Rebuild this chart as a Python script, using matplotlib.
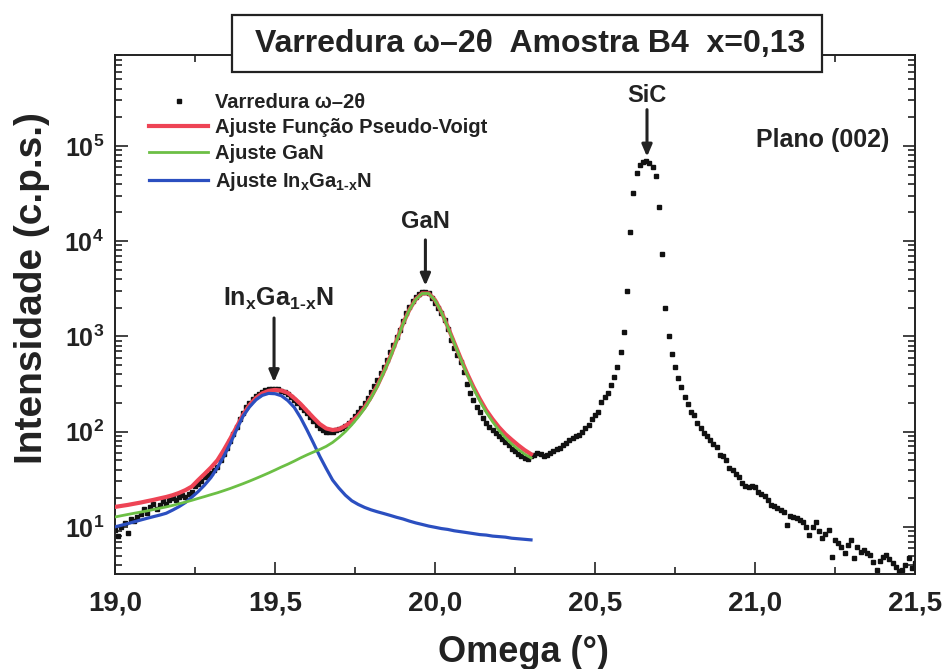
import numpy as np
import matplotlib
matplotlib.use("Agg")
import matplotlib.pyplot as plt
from matplotlib.patches import Rectangle
from matplotlib.ticker import FixedLocator, FixedFormatter, LogLocator, NullFormatter, MultipleLocator

# ---------------- data ----------------
omega_start = 19.00
omega_step = 0.01
scan_counts = [
    9.3, 8.0, 10.0, 11.0, 8.6, 12.0, 11.5, 12.8, 13.5, 15.5,
    14.0, 16.0, 17.5, 15.5, 17.0, 18.5, 17.5, 19.0, 20.0, 19.0,
    20.5, 21.5, 20.5, 22.0, 23.5, 27.0, 28.0, 30.0, 33.0, 35.0,
    37.0, 40.0, 43.0, 50.0, 58.0, 68.0, 80.0, 95.0, 112.0, 135.0,
    158.0, 180.0, 200.0, 218.0, 235.0, 250.0, 262.0, 272.0, 278.0, 282.0,
    280.0, 278.0, 270.0, 262.0, 250.0, 232.0, 215.0, 198.0, 182.0, 168.0,
    155.0, 142.0, 128.0, 118.0, 110.0, 103.0, 99.0, 98.0, 100.0, 104.0,
    106.0, 110.0, 115.0, 122.0, 132.0, 145.0, 160.0, 178.0, 200.0, 225.0,
    260.0, 300.0, 350.0, 410.0, 480.0, 565.0, 680.0, 820.0, 980.0, 1180.0,
    1450.0, 1750.0, 2050.0, 2350.0, 2600.0, 2800.0, 2900.0, 2920.0, 2850.0, 2500.0,
    2250.0, 2000.0, 1750.0, 1490.0, 1200.0, 920.0, 760.0, 640.0, 540.0, 420.0,
    320.0, 255.0, 215.0, 182.0, 160.0, 140.0, 123.0, 112.0, 104.0, 97.0,
    90.0, 84.0, 78.0, 72.0, 66.0, 62.0, 58.0, 55.0, 53.0, 52.0,
    55.0, 57.0, 60.0, 58.0, 56.0, 57.0, 60.0, 63.0, 66.0, 68.0,
    72.0, 76.0, 82.0, 86.0, 90.0, 92.0, 100.0, 110.0, 118.0, 135.0,
    150.0, 161.0, 205.0, 230.0, 255.0, 310.0, 376.0, 480.0, 686.0, 1110.0,
    3000.0, 12500.0, 32000.0, 52000.0, 63000.0, 68000.0, 69000.0, 66000.0, 60000.0, 48000.0,
    23000.0, 7300.0, 2000.0, 1010.0, 660.0, 480.0, 365.0, 295.0, 232.0, 195.0,
    161.0, 150.0, 123.0, 109.0, 97.0, 90.0, 82.0, 74.0, 69.0, 57.0,
    55.0, 50.0, 42.0, 40.0, 36.0, 33.0, 29.0, 27.0, 26.0, 27.0,
    26.0, 23.0, 22.0, 21.0, 19.0, 17.0, 16.5, 15.8, 15.0, 14.4,
    10.5, 13.0, 12.7, 12.4, 11.8, 11.3, 10.0, 8.2, 10.0, 11.3,
    9.0, 7.7, 8.5, 9.3, 4.8, 7.3, 6.8, 6.2, 5.3, 6.5,
    7.3, 4.7, 6.2, 5.5, 5.7, 5.3, 5.1, 4.3, 3.5, 4.4,
    4.8, 5.1, 4.6, 4.2, 3.8, 3.4, 3.5, 4.0, 4.7, 3.7,
    4.2,
]
omega_scan = [round(omega_start + i * omega_step, 2) for i in range(len(scan_counts))]

fit_start = 19.00
fit_step = 0.02
fit_pseudo_voigt = [
    16.2, 16.6, 17.0, 17.5, 18.0, 18.6, 19.2, 19.9, 20.6, 21.5,
    22.7, 24.3, 26.5, 31.0, 36.0, 42.0, 50.0, 64.0, 84.0, 112.0,
    150.0, 190.0, 225.0, 252.0, 268.0, 274.0, 270.0, 255.0, 225.0, 195.0,
    165.0, 140.0, 120.0, 108.0, 104.0, 106.0, 115.0, 128.0, 148.0, 180.0,
    230.0, 305.0, 425.0, 610.0, 910.0, 1360.0, 1910.0, 2460.0, 2830.0, 2830.0,
    2410.0, 1810.0, 1260.0, 860.0, 590.0, 410.0, 295.0, 220.0, 168.0, 135.0,
    111.0, 94.0, 82.0, 72.0, 64.0, 58.0,
]
fit_gan = [
    12.7, 13.1, 13.5, 13.9, 14.3, 14.7, 15.2, 15.7, 16.2, 16.8,
    17.5, 18.2, 19.0, 19.9, 20.8, 21.8, 22.8, 24.0, 25.3, 26.8,
    28.4, 30.2, 32.2, 34.4, 36.8, 39.5, 42.5, 45.5, 49.0, 53.0,
    57.0, 61.0, 65.0, 70.0, 77.0, 87.0, 100.0, 118.0, 142.0, 175.0,
    225.0, 300.0, 420.0, 600.0, 900.0, 1350.0, 1900.0, 2450.0, 2820.0, 2820.0,
    2400.0, 1800.0, 1250.0, 850.0, 580.0, 400.0, 285.0, 210.0, 160.0, 127.0,
    103.0, 86.0, 74.0, 65.0, 58.0, 53.0,
]
fit_ingan = [
    10.0, 10.4, 10.8, 11.3, 11.8, 12.3, 12.8, 13.3, 13.9, 15.0,
    16.3, 18.0, 20.5, 23.5, 27.5, 33.0, 42.0, 55.0, 75.0, 105.0,
    145.0, 181.0, 215.0, 240.0, 252.0, 250.0, 238.0, 212.0, 180.0, 140.0,
    104.0, 76.0, 55.0, 41.0, 31.0, 25.5, 21.5, 18.8, 17.2, 16.0,
    15.1, 14.4, 13.8, 13.2, 12.6, 12.1, 11.5, 11.0, 10.6, 10.2,
    9.9, 9.6, 9.4, 9.1, 8.9, 8.7, 8.5, 8.3, 8.2, 8.0,
    7.9, 7.8, 7.6, 7.5, 7.4, 7.3,
]
omega_fit = [round(fit_start + i * fit_step, 2) for i in range(len(fit_gan))]

x_ticks = [19.0, 19.5, 20.0, 20.5, 21.0, 21.5]
x_tick_labels = ["19,0", "19,5", "20,0", "20,5", "21,0", "21,5"]
y_ticks = [1e1, 1e2, 1e3, 1e4, 1e5]
y_tick_labels = [r"$\mathbf{10^{1}}$", r"$\mathbf{10^{2}}$", r"$\mathbf{10^{3}}$",
                 r"$\mathbf{10^{4}}$", r"$\mathbf{10^{5}}$"]

INGAN = r"In$_{\mathbf{x}}$Ga$_{\mathbf{1\text{-}x}}$N"
legend_labels = [
    "Varredura \u03c9\u20132\u03b8",
    "Ajuste Fun\u00e7\u00e3o Pseudo-Voigt",
    "Ajuste GaN",
    "Ajuste " + INGAN,
]

# ---------------- style ----------------
FAM = ["Liberation Sans", "DejaVu Sans"]
plt.rcParams["font.family"] = FAM
plt.rcParams["font.weight"] = "bold"
plt.rcParams["mathtext.fontset"] = "custom"
plt.rcParams["mathtext.rm"] = "Liberation Sans:bold"
plt.rcParams["mathtext.bf"] = "Liberation Sans:bold"
plt.rcParams["mathtext.it"] = "Liberation Sans:bold"

TXT = "#222222"
RED = "#ee4455"
GREEN = "#6cbf45"
BLUE = "#2b4fc0"

fig = plt.figure(figsize=(9.47, 6.69), dpi=100)
ax = fig.add_axes([115 / 947, 95 / 669, 800 / 947, 519 / 669])

ax.plot(omega_scan, scan_counts, linestyle="none", marker="s", ms=3.4,
        color="#111111", label=legend_labels[0], zorder=2)
ax.plot(omega_fit, fit_pseudo_voigt, color=RED, lw=3.0, label=legend_labels[1], zorder=3)
ax.plot(omega_fit, fit_ingan, color=BLUE, lw=2.3, label=legend_labels[3], zorder=4)
ax.plot(omega_fit, fit_gan, color=GREEN, lw=2.0, label=legend_labels[2], zorder=5)

ax.set_yscale("log")
ax.set_xlim(19.0, 21.5)
ax.set_ylim(3.2, 9e5)

ax.xaxis.set_major_locator(FixedLocator(x_ticks))
ax.xaxis.set_major_formatter(FixedFormatter(x_tick_labels))
ax.xaxis.set_minor_locator(MultipleLocator(0.25))
ax.yaxis.set_major_locator(FixedLocator(y_ticks))
ax.yaxis.set_major_formatter(FixedFormatter(y_tick_labels))
ax.yaxis.set_minor_locator(LogLocator(base=10, subs=np.arange(2, 10), numticks=20))
ax.yaxis.set_minor_formatter(NullFormatter())

ax.tick_params(which="both", direction="in", top=True, right=True, color=TXT, width=1.2)
ax.tick_params(which="major", length=9)
ax.tick_params(which="minor", length=5)
ax.tick_params(axis="x", which="major", labelsize=20, pad=12, labelcolor=TXT)
ax.tick_params(axis="y", which="major", labelsize=18, pad=8, labelcolor=TXT)
for lab in ax.get_xticklabels():
    lab.set_fontweight("bold")
for sp in ax.spines.values():
    sp.set_linewidth(1.4)
    sp.set_color(TXT)

ax.set_xlabel("Omega (\u00b0)", fontsize=26, fontweight="bold", color=TXT, va="center")
ax.xaxis.set_label_coords(0.51, -0.152)
ax.set_ylabel("Intensidade (c.p.s.)", fontsize=28, fontweight="bold", color=TXT, va="center")
ax.yaxis.set_label_coords(-0.104, 0.55)

# legend
handles, labels = ax.get_legend_handles_labels()
order = [0, 1, 3, 2]
leg = ax.legend([handles[i] for i in order], [labels[i] for i in order],
                loc="upper left", bbox_to_anchor=(0.033, 0.943), frameon=False,
                prop={"size": 14.5, "weight": "bold"}, handlelength=2.9,
                handletextpad=0.35, labelspacing=0.34, borderaxespad=0.0)
for t in leg.get_texts():
    t.set_color(TXT)

# peak annotations
arrow_kw = dict(arrowstyle="-|>,head_length=0.7,head_width=0.3", lw=2.2, color=TXT,
                shrinkA=0, shrinkB=0)
ax.annotate("", xy=(20.6625, 7.7e4), xytext=(20.6625, 2.4e5), arrowprops=arrow_kw)
ax.text(20.6625, 3.4e5, "SiC", ha="center", va="center", fontsize=17, color=TXT)
ax.annotate("", xy=(19.97, 3400), xytext=(19.97, 10300), arrowprops=arrow_kw)
ax.text(19.97, 16000, "GaN", ha="center", va="center", fontsize=17, color=TXT)
ax.annotate("", xy=(19.497, 330), xytext=(19.497, 1560), arrowprops=arrow_kw)
ax.text(19.51, 2450, INGAN, ha="center", va="center", fontsize=18, color=TXT)
ax.text(21.21, 1.16e5, "Plano (002)", ha="center", va="center", fontsize=18, color=TXT)

# title box
fig.add_artist(Rectangle((232 / 947, 1 - 72 / 669), 590 / 947, 57 / 669,
                         transform=fig.transFigure, facecolor="white",
                         edgecolor=TXT, lw=1.6, zorder=5))
fig.text(530 / 947, 1 - 44 / 669,
         "Varredura \u03c9\u20132\u03b8  Amostra B4  x=0,13",
         ha="center", va="center", fontsize=23, fontweight="bold", color=TXT, zorder=6)

fig.savefig("out.png", dpi=100)
